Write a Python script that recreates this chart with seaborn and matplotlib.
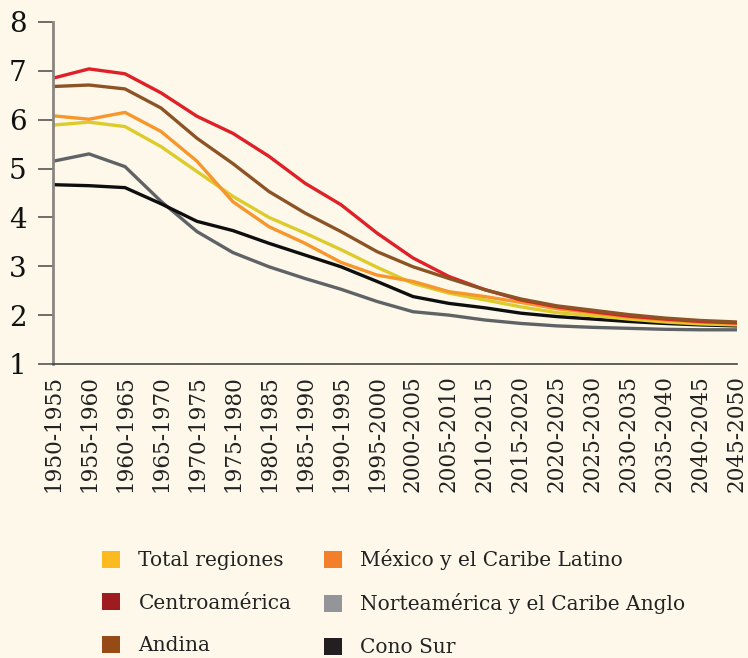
import matplotlib
matplotlib.use("Agg")
import matplotlib.pyplot as plt
from matplotlib.patches import Patch
import pandas as pd
import seaborn as sns

periods = ["1950-1955", "1955-1960", "1960-1965", "1965-1970", "1970-1975",
           "1975-1980", "1980-1985", "1985-1990", "1990-1995", "1995-2000",
           "2000-2005", "2005-2010", "2010-2015", "2015-2020", "2020-2025",
           "2025-2030", "2030-2035", "2035-2040", "2040-2045", "2045-2050"]

total_regiones = [5.89, 5.95, 5.86, 5.45, 4.94, 4.43, 4.00, 3.68, 3.34, 2.98,
                  2.65, 2.45, 2.31, 2.17, 2.05, 1.99, 1.92, 1.86, 1.82, 1.80]
centroamerica = [6.85, 7.04, 6.94, 6.55, 6.07, 5.72, 5.25, 4.70, 4.26, 3.68,
                 3.17, 2.79, 2.52, 2.31, 2.17, 2.07, 1.98, 1.92, 1.87, 1.84]
andina = [6.68, 6.71, 6.63, 6.24, 5.62, 5.10, 4.53, 4.09, 3.71, 3.30,
          2.99, 2.75, 2.52, 2.33, 2.19, 2.10, 2.01, 1.94, 1.89, 1.86]
mexico_caribe = [6.08, 6.01, 6.15, 5.76, 5.15, 4.32, 3.81, 3.47, 3.08, 2.82,
                 2.69, 2.48, 2.38, 2.26, 2.13, 2.05, 1.96, 1.90, 1.86, 1.83]
norteamerica = [5.15, 5.30, 5.04, 4.33, 3.71, 3.28, 2.99, 2.75, 2.53, 2.28,
                2.07, 2.00, 1.90, 1.83, 1.78, 1.75, 1.73, 1.71, 1.70, 1.70]
cono_sur = [4.67, 4.65, 4.61, 4.28, 3.92, 3.73, 3.47, 3.23, 2.99, 2.69,
            2.38, 2.24, 2.15, 2.04, 1.97, 1.92, 1.87, 1.83, 1.80, 1.78]

series = {
    "Total regiones": total_regiones,
    "Centroamérica": centroamerica,
    "Andina": andina,
    "México y el Caribe Latino": mexico_caribe,
    "Norteamérica y el Caribe Anglo": norteamerica,
    "Cono Sur": cono_sur,
}
line_colors = {
    "Total regiones": "#dccb2b",
    "Centroamérica": "#df2027",
    "Andina": "#8c5426",
    "México y el Caribe Latino": "#f7962b",
    "Norteamérica y el Caribe Anglo": "#5f6366",
    "Cono Sur": "#0e0e0e",
}
legend_colors = {
    "Total regiones": "#fbba20",
    "Centroamérica": "#9e1b20",
    "Andina": "#964b16",
    "México y el Caribe Latino": "#f37f2a",
    "Norteamérica y el Caribe Anglo": "#939598",
    "Cono Sur": "#231f20",
}

rows = []
for name, vals in series.items():
    for i, v in enumerate(vals):
        rows.append({"idx": i, "valor": v, "region": name})
df = pd.DataFrame(rows)

bg = "#fdf8ea"
sns.set_theme(style="white")
plt.rcParams["font.family"] = ["DejaVu Serif"]

fig = plt.figure(figsize=(7.48, 6.58), dpi=100, facecolor=bg)
ax = fig.add_axes([53 / 748, 1 - 364 / 658, (737 - 53) / 748, (364 - 22) / 658])
ax.set_facecolor(bg)

# draw back to front so red/brown end on top like the original
order = ["Norteamérica y el Caribe Anglo", "Cono Sur", "Total regiones",
         "México y el Caribe Latino", "Centroamérica", "Andina"]
sns.lineplot(data=df, x="idx", y="valor", hue="region", hue_order=order,
             palette=line_colors, linewidth=2.4, legend=False, ax=ax)

ax.set_xlim(0, len(periods) - 1)
ax.set_ylim(1, 8)
ax.set_xticks(range(len(periods)))
ax.set_xticklabels(periods, rotation=90, fontsize=15.5, color="#222222")
ax.set_yticks(range(1, 9))
ax.set_yticklabels([str(v) for v in range(1, 9)], fontsize=20, color="#111111")
ax.tick_params(axis="y", direction="out", length=11, width=1.2, color="#555555",
               left=True, pad=8)
ax.tick_params(axis="x", length=0, pad=8)
ax.set_xlabel("")
ax.set_ylabel("")
for side in ["top", "right"]:
    ax.spines[side].set_visible(False)
ax.spines["left"].set_color("#8a8580")
ax.spines["left"].set_linewidth(2)
ax.spines["bottom"].set_color("#444444")
ax.spines["bottom"].set_linewidth(1.2)

handles = [Patch(facecolor=legend_colors[n], edgecolor="none", label=n) for n in series]
fig.legend(handles=handles, ncol=2, loc="upper left",
           bbox_to_anchor=(84 / 748, 1 - 531 / 658), frameon=False,
           fontsize=14.5, handlelength=0.9, handleheight=0.9,
           handletextpad=0.9, labelspacing=1.16, columnspacing=1.6,
           labelcolor="#222222")

fig.savefig("out.png", dpi=100, facecolor=bg)
